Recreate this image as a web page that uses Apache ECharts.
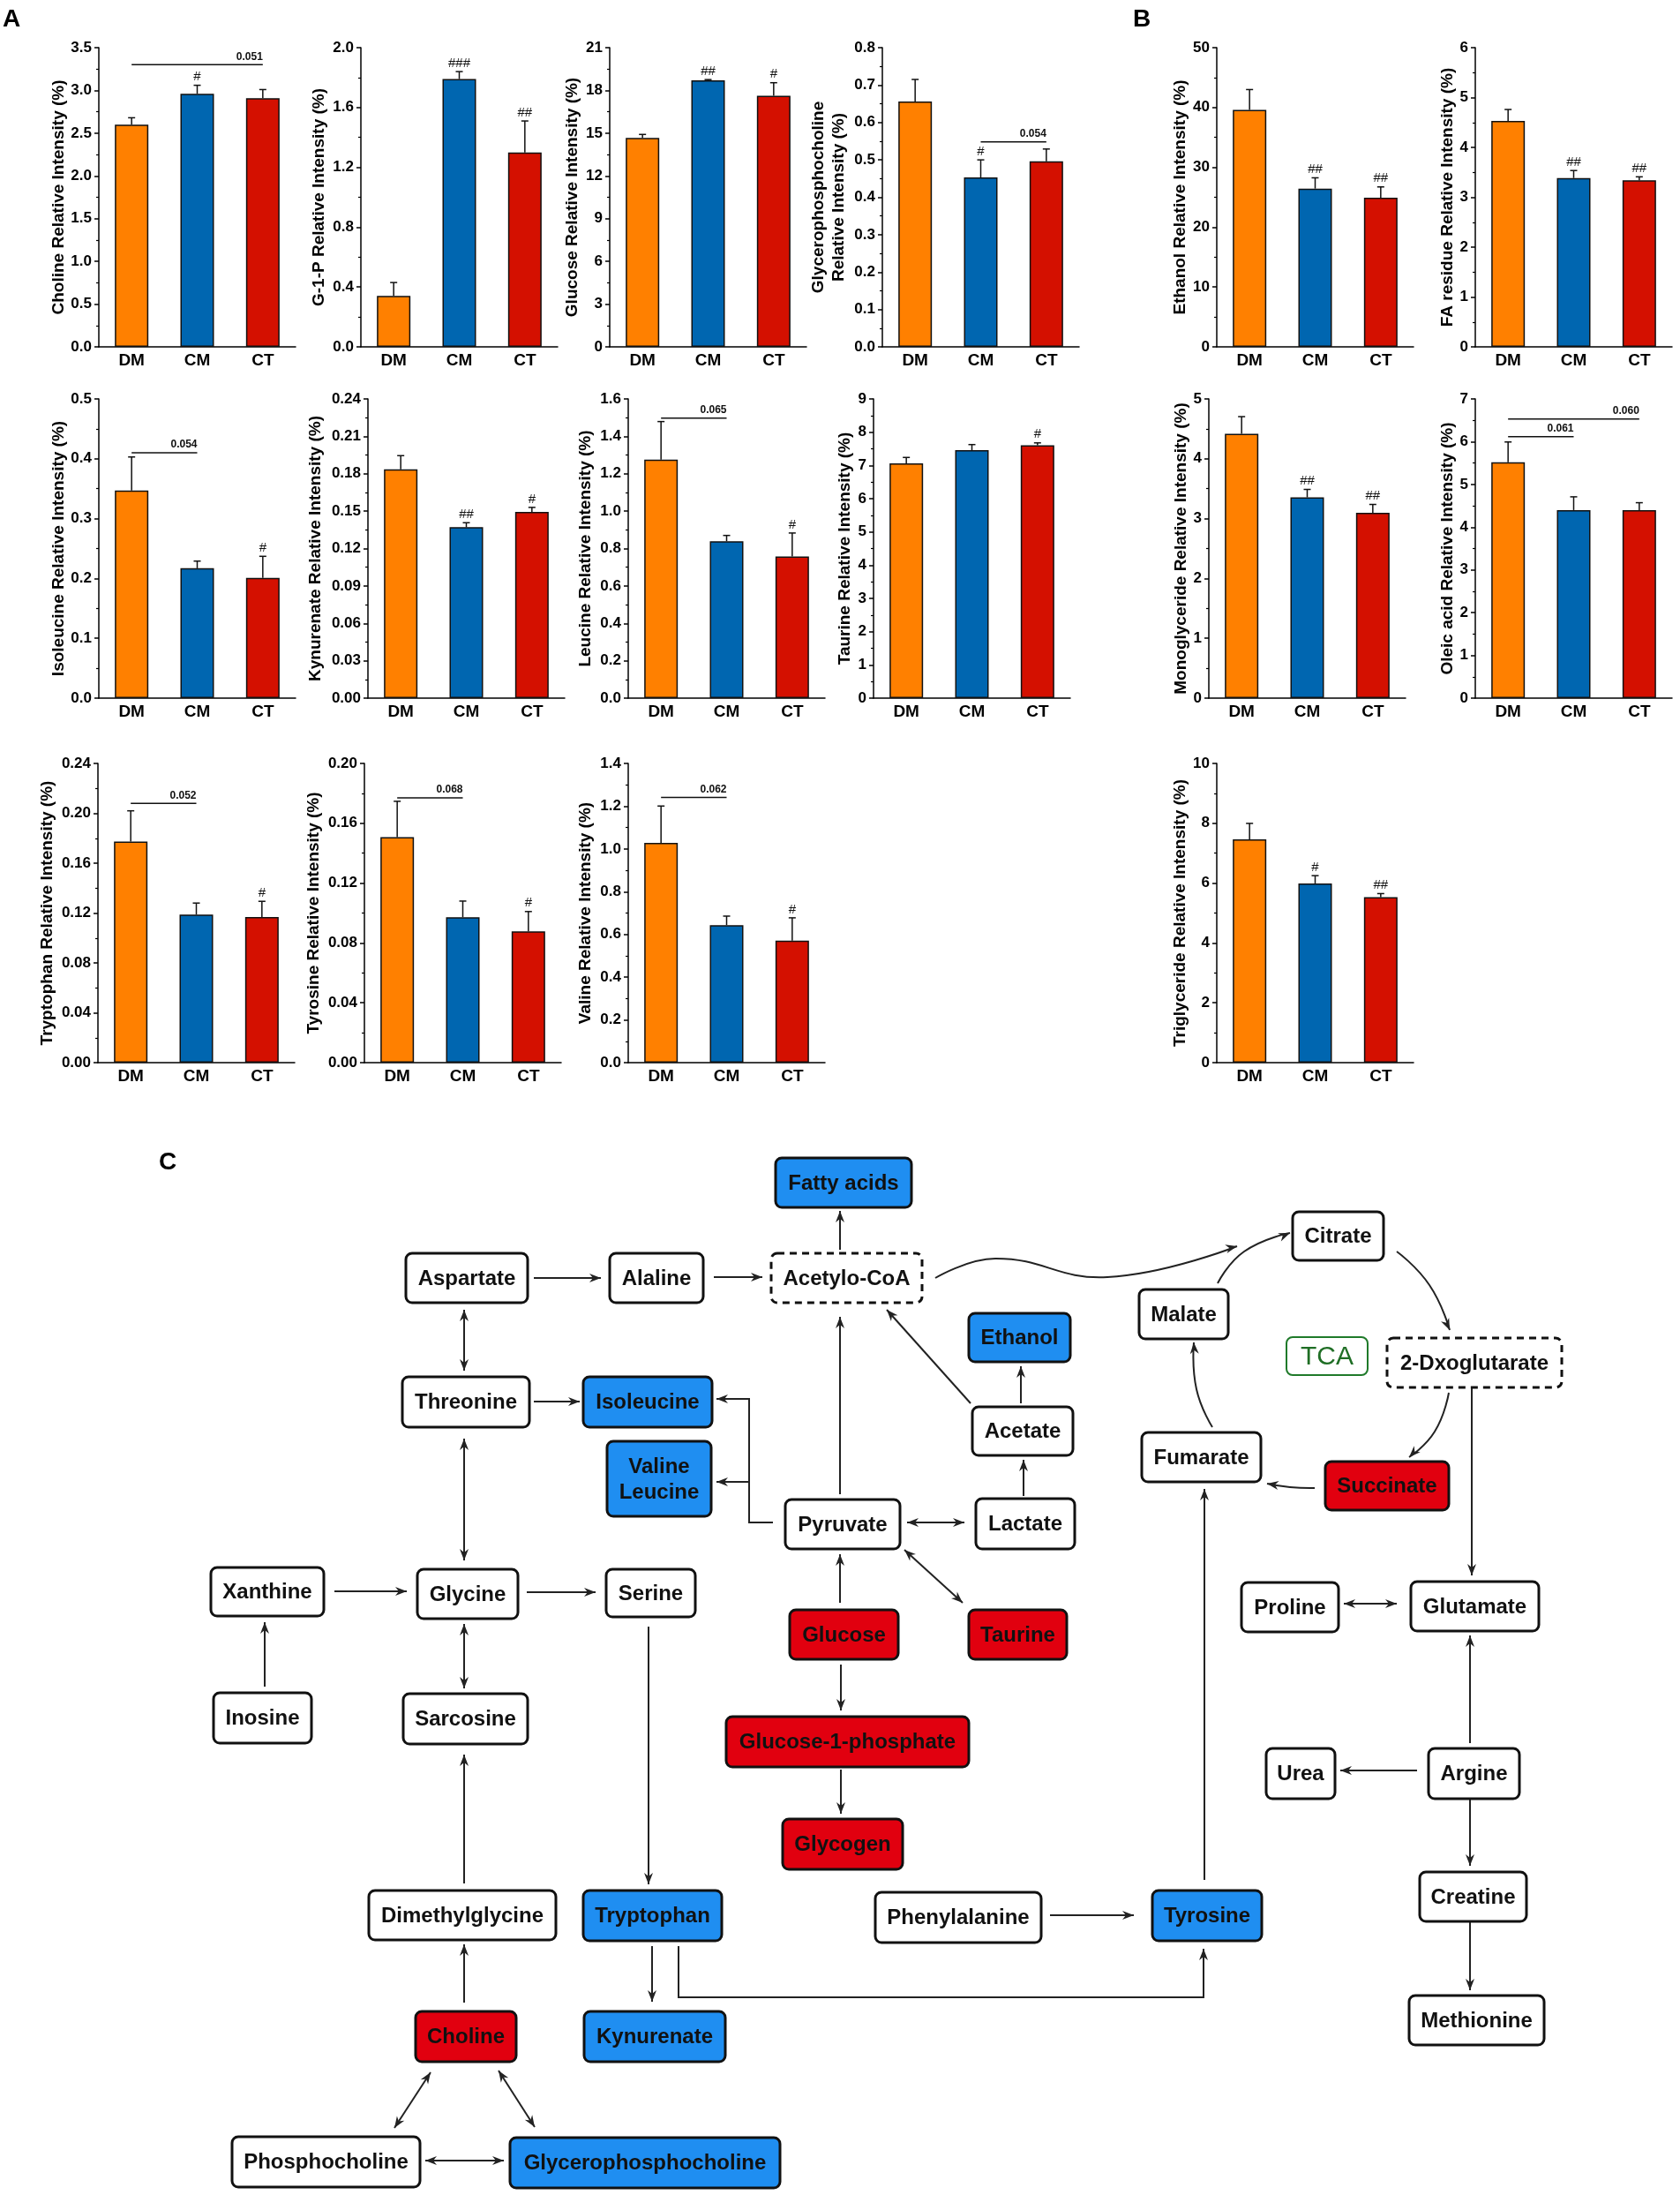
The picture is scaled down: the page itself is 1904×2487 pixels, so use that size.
<!DOCTYPE html>
<html><head><meta charset="utf-8">
<script src="https://cdn.jsdelivr.net/npm/echarts@6/dist/echarts.min.js"></script>
<style>html,body{margin:0;padding:0;background:#fff}#c{width:1904px;height:2487px}</style>
</head><body><div id="c"></div>
<script>
const FONT = '"Liberation Sans", Arial, Helvetica, sans-serif';
const groups = ['DM', 'CM', 'CT'];

// ---- values (mean, upper error) ----
const cholineMean = [2.60, 2.96, 2.91],      cholineErr = [0.08, 0.10, 0.10],       cholineSig = ['', '#', ''];
const g1pMean = [0.34, 1.79, 1.30],          g1pErr = [0.09, 0.05, 0.21],           g1pSig = ['', '###', '##'];
const glucoseMean = [14.66, 18.71, 17.63],   glucoseErr = [0.25, 0.05, 0.91],       glucoseSig = ['', '##', '#'];
const gpcMean = [0.656, 0.453, 0.496],       gpcErr = [0.059, 0.047, 0.033],        gpcSig = ['', '#', ''];
const ethanolMean = [39.6, 26.45, 24.93],    ethanolErr = [3.4, 1.8, 1.8],          ethanolSig = ['', '##', '##'];
const faMean = [4.53, 3.386, 3.34],          faErr = [0.23, 0.15, 0.07],            faSig = ['', '##', '##'];
const isoleucineMean = [0.347, 0.217, 0.201], isoleucineErr = [0.056, 0.012, 0.036], isoleucineSig = ['', '', '#'];
const kynurenateMean = [0.1835, 0.1371, 0.1494], kynurenateErr = [0.011, 0.0036, 0.0036], kynurenateSig = ['', '##', '#'];
const leucineMean = [1.275, 0.839, 0.758],   leucineErr = [0.204, 0.031, 0.125],    leucineSig = ['', '', '#'];
const taurineMean = [7.06, 7.457, 7.608],    taurineErr = [0.18, 0.17, 0.07],       taurineSig = ['', '', '#'];
const monoMean = [4.419, 3.355, 3.099],      monoErr = [0.285, 0.133, 0.138],       monoSig = ['', '##', '##'];
const oleicMean = [5.517, 4.40, 4.40],       oleicErr = [0.476, 0.31, 0.172],       oleicSig = ['', '', ''];
const tryptophanMean = [0.1773, 0.1188, 0.1169], tryptophanErr = [0.0247, 0.0092, 0.0125], tryptophanSig = ['', '', '#'];
const tyrosineMean = [0.1507, 0.0972, 0.0878], tyrosineErr = [0.024, 0.0108, 0.0132], tyrosineSig = ['', '', '#'];
const valineMean = [1.0287, 0.6436, 0.5707], valineErr = [0.172, 0.042, 0.107],     valineSig = ['', '', '#'];
const trigMean = [7.466, 5.99, 5.53],        trigErr = [0.53, 0.26, 0.12],          trigSig = ['', '#', '##'];

// brackets: [fromGroup, toGroup, y, p-label]
const cholineBr = [[0, 2, 3.30, '0.051']];
const gpcBr = [[1, 2, 0.548, '0.054']];
const isoleucineBr = [[0, 1, 0.41, '0.054']];
const leucineBr = [[0, 1, 1.497, '0.065']];
const oleicBr = [[0, 1, 6.117, '0.061'], [0, 2, 6.531, '0.060']];
const tryptophanBr = [[0, 1, 0.208, '0.052']];
const tyrosineBr = [[0, 1, 0.177, '0.068']];
const valineBr = [[0, 1, 1.2405, '0.062']];

// axis titles and ticks
const titles = ['Choline Relative Intensity (%)', 'G-1-P Relative Intensity (%)', 'Glucose Relative Intensity (%)',
  'Glycerophosphocholine\nRelative Intensity (%)', 'Ethanol Relative Intensity (%)', 'FA residue Relative Intensity (%)',
  'Isoleucine Relative Intensity (%)', 'Kynurenate Relative Intensity (%)', 'Leucine Relative Intensity (%)',
  'Taurine Relative Intensity (%)', 'Monoglyceride Relative Intensity (%)', 'Oleic acid Relative Intensity (%)',
  'Tryptophan Relative Intensity (%)', 'Tyrosine Relative Intensity (%)', 'Valine Relative Intensity (%)',
  'Triglyceride Relative Intensity (%)'];
const yMax =  [3.5, 2.0, 21, 0.8, 50, 6, 0.5, 0.24, 1.6, 9, 5, 7, 0.24, 0.20, 1.4, 10];
const yStep = [0.5, 0.4, 3, 0.1, 10, 1, 0.1, 0.03, 0.2, 1, 1, 1, 0.04, 0.04, 0.2, 2];
const yDec =  [1, 1, 0, 1, 0, 0, 1, 2, 1, 0, 0, 0, 2, 2, 1, 0];
const means = [cholineMean, g1pMean, glucoseMean, gpcMean, ethanolMean, faMean, isoleucineMean, kynurenateMean,
  leucineMean, taurineMean, monoMean, oleicMean, tryptophanMean, tyrosineMean, valineMean, trigMean];
const errs = [cholineErr, g1pErr, glucoseErr, gpcErr, ethanolErr, faErr, isoleucineErr, kynurenateErr,
  leucineErr, taurineErr, monoErr, oleicErr, tryptophanErr, tyrosineErr, valineErr, trigErr];
const sigs = [cholineSig, g1pSig, glucoseSig, gpcSig, ethanolSig, faSig, isoleucineSig, kynurenateSig,
  leucineSig, taurineSig, monoSig, oleicSig, tryptophanSig, tyrosineSig, valineSig, trigSig];
const brackets = [cholineBr, [], [], gpcBr, [], [], isoleucineBr, [], leucineBr, [], [], oleicBr,
  tryptophanBr, tyrosineBr, valineBr, []];

// layout of the small charts (axis origin left/top) and title gaps
const gridPos = [[112, 54], [409, 54], [691, 54], [1000, 54], [1379, 54], [1672, 54],
  [112, 452], [417, 452], [712, 452], [990, 452], [1370, 452], [1672, 452],
  [111, 865], [413, 865], [712, 865], [1379, 865]];
const nameGaps = [34, 36, 31, 38, 30, 20, 34, 48, 37, 21, 20, 20, 46, 46, 37, 30];
const barColors = ['#ff8000', '#0066b0', '#d41000'];

// ---- pathway diagram ----
const nodeNames = ['Fatty acids', 'Aspartate', 'Alaline', 'Acetylo-CoA', 'Citrate', 'Malate', 'Ethanol', '2-Dxoglutarate',
  'Threonine', 'Isoleucine', 'Acetate', 'Valine\nLeucine', 'Fumarate', 'Succinate', 'Pyruvate', 'Lactate',
  'Xanthine', 'Glycine', 'Serine', 'Glucose', 'Taurine', 'Proline', 'Glutamate', 'Inosine', 'Sarcosine',
  'Glucose-1-phosphate', 'Urea', 'Argine', 'Glycogen', 'Dimethylglycine', 'Tryptophan', 'Phenylalanine',
  'Tyrosine', 'Creatine', 'Choline', 'Kynurenate', 'Methionine', 'Phosphocholine', 'Glycerophosphocholine', 'TCA'];
const nodeKinds = ['down', 'n', 'n', 'dash', 'n', 'n', 'down', 'dash',
  'n', 'down', 'n', 'down', 'n', 'up', 'n', 'n',
  'n', 'n', 'n', 'up', 'up', 'n', 'n', 'n', 'n',
  'up', 'n', 'n', 'up', 'n', 'down', 'n',
  'down', 'n', 'up', 'down', 'n', 'n', 'down', 'tca'];
const nodeBoxes = [[879,1312,1033,1368],[460,1420,598,1476],[691,1420,797,1476],[874,1420,1045,1476],[1465,1373,1568,1428],
  [1291,1461,1392,1517],[1098,1488,1213,1543],[1572,1516,1770,1572],[456,1560,600,1617],[661,1560,807,1617],
  [1102,1594,1216,1649],[688,1633,806,1718],[1294,1623,1429,1679],[1502,1656,1642,1711],[890,1699,1020,1755],
  [1106,1698,1218,1755],[239,1776,367,1831],[473,1778,587,1834],[687,1778,788,1832],[895,1824,1018,1880],
  [1098,1824,1209,1880],[1407,1793,1517,1849],[1599,1792,1744,1848],[242,1918,353,1975],[457,1919,598,1976],
  [823,1945,1098,2002],[1435,1981,1513,2038],[1619,1981,1722,2038],[887,2061,1023,2118],[418,2142,630,2198],
  [661,2142,818,2199],[992,2144,1180,2201],[1306,2142,1430,2199],[1609,2121,1730,2177],[471,2279,585,2336],
  [662,2279,822,2336],[1597,2261,1750,2317],[263,2421,476,2478],[578,2422,884,2479],[1458,1515,1550,1558]];
// edges: [points, arrow at start?, smooth]
const edgePaths = [
  [[[605,1448],[681,1448]], false, 0], [[[809,1447],[864,1447]], false, 0],
  [[[526,1484],[526,1553]], true, 0], [[[605,1588],[657,1588]], false, 0],
  [[[526,1630],[526,1768]], true, 0],
  [[[876,1725],[849,1725],[849,1585],[812,1585]], false, 0], [[[849,1679],[812,1679]], false, 0],
  [[[952,1416],[952,1372]], false, 0], [[[952,1693],[952,1492]], false, 0],
  [[[379,1803],[461,1803]], false, 0], [[[597,1804],[675,1804]], false, 0],
  [[[300,1911],[300,1838]], false, 0], [[[526,1840],[526,1913]], true, 0],
  [[[735,1843],[735,2135]], false, 0], [[[952,1816],[952,1761]], false, 0],
  [[[953,1886],[953,1938]], false, 0], [[[953,2005],[953,2055]], false, 0],
  [[[1060,1448],[1128,1426],[1255,1447],[1402,1412]], false, 0.45],
  [[[1380,1454],[1410,1418],[1462,1397]], false, 0.5],
  [[[1583,1418],[1620,1456],[1643,1507]], false, 0.5],
  [[[1157,1590],[1157,1548]], false, 0], [[[1100,1590],[1005,1484]], false, 0],
  [[[1160,1695],[1160,1654]], false, 0], [[[1028,1725],[1093,1725]], true, 0],
  [[[1025,1756],[1091,1816]], true, 0],
  [[[1374,1617],[1356,1574],[1353,1521]], false, 0.5],
  [[[1642,1578],[1626,1622],[1597,1651]], false, 0.5],
  [[[1490,1686],[1462,1685],[1436,1681]], false, 0.5],
  [[[1668,1572],[1668,1785]], false, 0], [[[1523,1817],[1583,1817]], true, 0],
  [[[1365,2130],[1365,1687]], false, 0], [[[1666,1975],[1666,1853]], false, 0],
  [[[1606,2006],[1519,2006]], false, 0], [[[1666,2039],[1666,2114]], false, 0],
  [[[1666,2178],[1666,2255]], false, 0], [[[526,2134],[526,1988]], false, 0],
  [[[526,2269],[526,2203]], false, 0], [[[739,2205],[739,2268]], false, 0],
  [[[769,2205],[769,2263],[1364,2263],[1364,2208]], false, 0],
  [[[1190,2170],[1285,2170]], false, 0],
  [[[488,2348],[447,2411]], true, 0], [[[565,2346],[606,2410]], true, 0],
  [[[482,2448],[571,2448]], true, 0]
];
const kindFill = {n: '#ffffff', dash: '#ffffff', up: '#e1000f', down: '#1f8ef1', tca: '#ffffff'};

// ---------- build option ----------
const grids = [], xAxes = [], yAxes = [], series = [];
titles.forEach((title, k) => {
  const [left, top] = gridPos[k];
  grids.push({left, top, width: 223, height: 339, containLabel: false, outerBoundsMode: 'none'});
  xAxes.push({
    gridIndex: k, type: 'category', data: groups,
    axisLine: {lineStyle: {color: '#000', width: 1.5}},
    axisTick: {length: 5, lineStyle: {color: '#000', width: 1.5}},
    axisLabel: {color: '#000', fontSize: 19, fontWeight: 'bold', margin: 6, fontFamily: FONT},
    splitLine: {show: false}
  });
  const dec = yDec[k];
  yAxes.push({
    gridIndex: k, type: 'value', min: 0, max: yMax[k], interval: yStep[k],
    name: title, nameLocation: 'middle', nameGap: nameGaps[k], nameMoveOverlap: false,
    nameTextStyle: {color: '#000', fontSize: 19, fontWeight: 'bold', fontFamily: FONT, lineHeight: 23},
    axisLine: {show: true, lineStyle: {color: '#000', width: 1.5}},
    axisTick: {show: true, length: 5, lineStyle: {color: '#000', width: 1.5}},
    minorTick: {show: true, splitNumber: 2, length: 3, lineStyle: {color: '#000', width: 1.2}},
    axisLabel: {color: '#000', fontSize: 17, fontWeight: 'bold', margin: 8, fontFamily: FONT,
      formatter: v => Number(v).toFixed(dec)},
    splitLine: {show: false}, minorSplitLine: {show: false}
  });
  series.push({
    type: 'bar', xAxisIndex: k, yAxisIndex: k, barWidth: 38, silent: true,
    data: means[k].map((v, i) => ({value: v, itemStyle: {color: barColors[i]}})),
    itemStyle: {borderColor: '#111', borderWidth: 1.5}
  });
  const sg = sigs[k];
  series.push({
    type: 'custom', xAxisIndex: k, yAxisIndex: k, silent: true, z: 3,
    data: means[k].map((v, i) => [i, v, v + errs[k][i]]),
    renderItem: (params, api) => {
      const a = api.coord([api.value(0), api.value(1)]);
      const b = api.coord([api.value(0), api.value(2)]);
      const ls = {stroke: '#111', lineWidth: 1.5};
      const ch = [
        {type: 'line', shape: {x1: a[0], y1: a[1], x2: b[0], y2: b[1]}, style: ls},
        {type: 'line', shape: {x1: b[0] - 4, y1: b[1], x2: b[0] + 4, y2: b[1]}, style: ls}
      ];
      const s = sg[params.dataIndex];
      if (s) ch.push({type: 'text', style: {text: s, x: b[0], y: b[1] - 2, align: 'center', verticalAlign: 'bottom',
        fontSize: 15, fontFamily: FONT, fill: '#111'}});
      return {type: 'group', children: ch};
    }
  });
  if (brackets[k].length) {
    const br = brackets[k];
    series.push({
      type: 'custom', xAxisIndex: k, yAxisIndex: k, silent: true, z: 3,
      data: br.map(b => [b[0], b[1], b[2]]),
      renderItem: (params, api) => {
        const a = api.coord([api.value(0), api.value(2)]);
        const b = api.coord([api.value(1), api.value(2)]);
        return {type: 'group', children: [
          {type: 'line', shape: {x1: a[0], y1: a[1], x2: b[0], y2: b[1]}, style: {stroke: '#111', lineWidth: 1.5}},
          {type: 'text', style: {text: br[params.dataIndex][3], x: b[0], y: b[1] - 3, align: 'right', verticalAlign: 'bottom',
            fontSize: 12, fontWeight: 'bold', fontFamily: FONT, fill: '#111'}}
        ]};
      }
    });
  }
});

// diagram grid (1:1 pixel space)
const D = titles.length;
grids.push({left: 0, top: 0, width: 1904, height: 2487, containLabel: false, outerBoundsMode: 'none'});
xAxes.push({gridIndex: D, type: 'value', min: 0, max: 1904, show: false});
yAxes.push({gridIndex: D, type: 'value', min: 0, max: 2487, inverse: true, show: false});

function arrowHead(tip, from, col) {
  let dx = tip[0] - from[0], dy = tip[1] - from[1];
  const len = Math.hypot(dx, dy) || 1; dx /= len; dy /= len;
  const nx = -dy, ny = dx, L = 13, W = 5, N = 9;
  return {type: 'polygon', shape: {points: [
    tip, [tip[0] - L * dx + W * nx, tip[1] - L * dy + W * ny],
    [tip[0] - N * dx, tip[1] - N * dy],
    [tip[0] - L * dx - W * nx, tip[1] - L * dy - W * ny]]}, style: {fill: col}};
}

series.push({
  type: 'custom', xAxisIndex: D, yAxisIndex: D, silent: true, clip: false, z: 4,
  data: edgePaths.map((e, i) => [i]),
  renderItem: (params, api) => {
    const e = edgePaths[params.dataIndex];
    const pts = e[0].map(p => api.coord(p));
    const col = '#222';
    const ch = [{type: 'polyline', shape: {points: pts, smooth: e[2]}, style: {stroke: col, lineWidth: 2, fill: null}}];
    const n = pts.length;
    ch.push(arrowHead(pts[n - 1], pts[n - 2], col));
    if (e[1]) ch.push(arrowHead(pts[0], pts[1], col));
    return {type: 'group', children: ch};
  }
});

series.push({
  type: 'custom', xAxisIndex: D, yAxisIndex: D, silent: true, clip: false, z: 5,
  data: nodeBoxes,
  renderItem: (params, api) => {
    const i = params.dataIndex;
    const p0 = api.coord([api.value(0), api.value(1)]);
    const p1 = api.coord([api.value(2), api.value(3)]);
    const kind = nodeKinds[i];
    const isTca = kind === 'tca';
    const rect = {type: 'rect', shape: {x: p0[0], y: p0[1], width: p1[0] - p0[0], height: p1[1] - p0[1], r: 7},
      style: {fill: kindFill[kind], stroke: isTca ? '#1f7a2a' : '#111', lineWidth: isTca ? 2 : 3,
        lineDash: kind === 'dash' ? [8, 6] : null}};
    const txt = {type: 'text', style: {text: nodeNames[i], x: (p0[0] + p1[0]) / 2, y: (p0[1] + p1[1]) / 2 + 1,
      align: 'center', verticalAlign: 'middle', fontFamily: FONT,
      fontSize: isTca ? 30 : 24, fontWeight: isTca ? 'normal' : 'bold', lineHeight: 29,
      fill: isTca ? '#1f6e25' : '#111'}};
    return {type: 'group', children: [rect, txt]};
  }
});

const option = {
  animation: false,
  backgroundColor: '#ffffff',
  grid: grids, xAxis: xAxes, yAxis: yAxes, series,
  graphic: [
    {type: 'text', left: 3, top: 8, style: {text: 'A', fontSize: 28, fontWeight: 'bold', fontFamily: FONT, fill: '#000'}},
    {type: 'text', left: 1284, top: 8, style: {text: 'B', fontSize: 28, fontWeight: 'bold', fontFamily: FONT, fill: '#000'}},
    {type: 'text', left: 180, top: 1303, style: {text: 'C', fontSize: 28, fontWeight: 'bold', fontFamily: FONT, fill: '#000'}}
  ]
};
const chart = echarts.init(document.getElementById('c'), null, {renderer: 'canvas'});
chart.setOption(option);
</script></body></html>
